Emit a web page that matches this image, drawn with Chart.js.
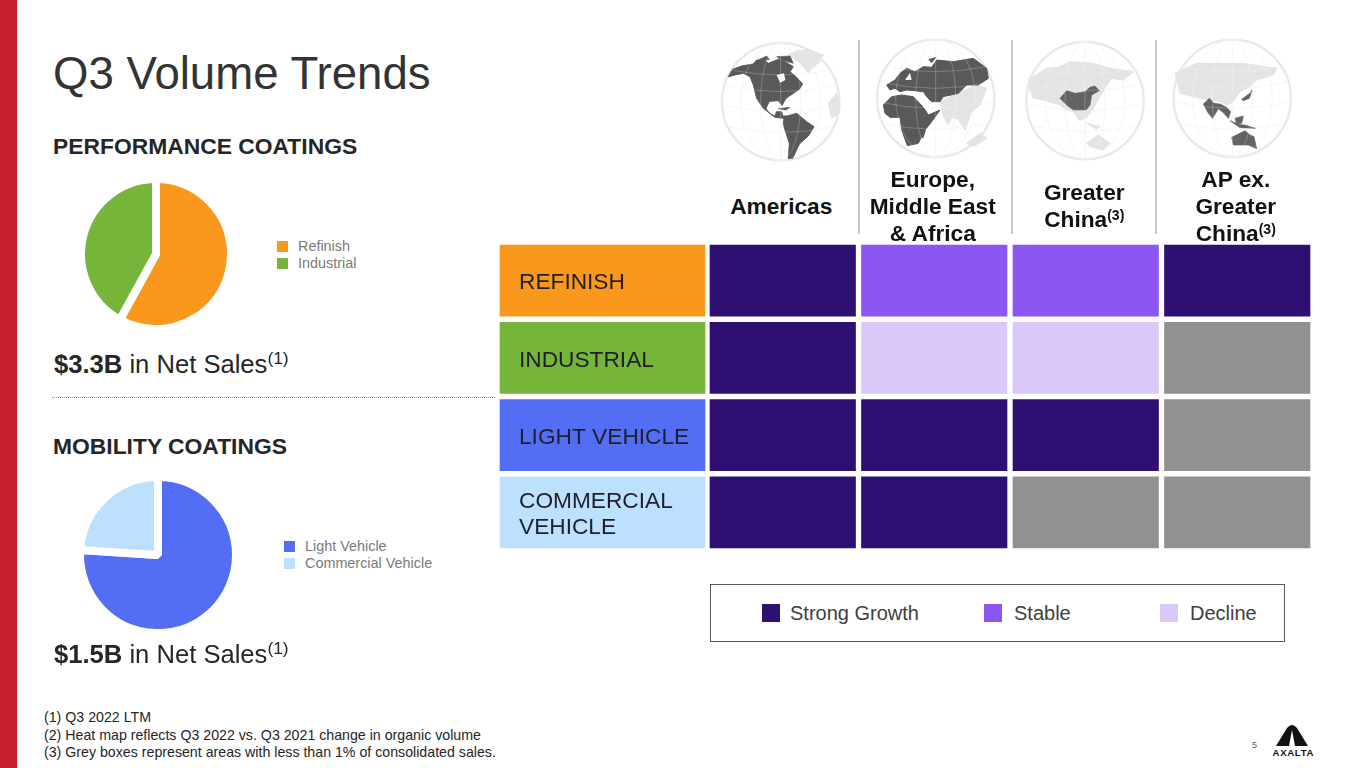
<!DOCTYPE html>
<html>
<head>
<meta charset="utf-8">
<title>Q3 Volume Trends</title>
<script src="https://cdn.jsdelivr.net/npm/chart.js@4"></script>
<style>
  html, body { margin: 0; padding: 0; background: #fff; width: 1365px; height: 768px; overflow: hidden; }
  body { font-family: "Liberation Sans", Arial, sans-serif; color: #262626; position: relative; }
  .abs { position: absolute; white-space: nowrap; }
  canvas { position: absolute; }
  sup { font-size: 0.68em; line-height: 0; vertical-align: baseline; position: relative; top: -0.5em; }
  .head { font-weight: bold; font-size: 22.85px; line-height: 27px; color: #262626; left: 53px; }
  .sales { font-size: 25.6px; line-height: 30px; left: 54px; }
  .vline { position: absolute; width: 2px; top: 40px; height: 194px; background: #c9c9c9; }
  .leg { position: absolute; font-size: 14.4px; line-height: 17px; color: #7a7a7a; white-space: nowrap; }
  .leg i { position: absolute; width: 11px; height: 11px; top: 3px; }
  .hk { position: absolute; font-size: 20px; line-height: 24px; color: #404040; white-space: nowrap; top: 601px; }
  .hs { position: absolute; width: 18px; height: 18px; top: 604px; }
  .region { position: absolute; top: 206px; transform: translate(-50%, -50%); text-align: center; font-weight: bold; font-size: 22.7px; line-height: 27px; color: #111; white-space: nowrap; }
  .region sup { font-size: 0.62em; }
  svg path { stroke-linejoin: round; }
</style>
</head>
<body>
<div class="abs" style="left:0;top:0;width:17px;height:768px;background:#c8202d"></div>
<div class="abs" style="left:53px;top:47px;font-size:45.6px;line-height:54px;color:#333">Q3 Volume Trends</div>

<div class="abs head" style="top:133px">PERFORMANCE COATINGS</div>
<canvas id="piePerformance" width="160" height="160" style="left:76px;top:174px"></canvas>
<div class="abs sales" style="top:349px"><b>$3.3B</b> in Net Sales<sup>(1)</sup></div>
<div class="abs" style="left:52px;top:397px;width:443px;border-top:1px dotted #8a8a8a"></div>

<div class="abs head" style="top:433px">MOBILITY COATINGS</div>
<canvas id="pieMobility" width="170" height="170" style="left:73px;top:470px"></canvas>
<div class="abs sales" style="top:639px"><b>$1.5B</b> in Net Sales<sup>(1)</sup></div>

<!-- globes -->
<svg class="abs" style="left:710px;top:30px" width="610" height="140" viewBox="0 0 1830 420">
  <defs>
    <g id="grat" fill="none" stroke="#efefef" stroke-width="2">
      <ellipse cx="0" cy="0" rx="60" ry="176"/>
      <ellipse cx="0" cy="0" rx="120" ry="176"/>
      <path d="M0,-176V176M-170,-50Q0,-10 170,-50M-176,10Q0,50 176,10M-160,75Q0,110 160,75M-150,-95Q0,-65 150,-95"/>
    </g>
    <g id="gratTop" fill="none" stroke="#ffffff" stroke-opacity="0.45" stroke-width="1.5">
      <ellipse cx="0" cy="0" rx="60" ry="176"/>
      <ellipse cx="0" cy="0" rx="120" ry="176"/>
      <path d="M0,-176V176M-170,-50Q0,-10 170,-50M-176,10Q0,50 176,10M-160,75Q0,110 160,75M-150,-95Q0,-65 150,-95"/>
    </g>
  </defs>
  <!-- Americas -->
  <g transform="translate(212,215)"><circle r="176" fill="#fff" stroke="#e9e9e9" stroke-width="7"/><use href="#grat"/></g>
  <path fill="#e4e4e4" stroke="#e4e4e4" stroke-width="3" d="M235,75L262,62L300,60L340,75L325,100L305,115L295,130L280,110L265,95ZM355,220L380,190L390,220L388,250L365,265Z"/>
  <path fill="#595959" stroke="#595959" stroke-width="3" d="M55,140L68,118L95,108L130,102L140,90L165,92L175,100L205,88L225,95L250,110L240,125L258,140L278,162L268,178L250,190L228,205L216,226L205,212L178,214L168,235L178,250L195,258L200,244L215,245L218,258L232,258L260,250L290,275L312,290L295,318L268,342L248,385L235,386L238,340L225,300L220,280L222,265L195,262L160,235L140,205L130,165L120,140L100,130L75,135Z"/>
  <path fill="#fff" d="M200,135L222,130L226,150L210,158ZM160,80L190,78L185,90L160,90Z"/>
  <path fill="#595959" stroke="#595959" stroke-width="2" d="M205,236L240,232L228,240ZM140,92L170,78L178,88L150,96ZM200,80L240,78L250,100L215,90Z"/>
  <g transform="translate(212,215)"><use href="#gratTop"/></g>
  <!-- Europe, Middle East and Africa -->
  <g transform="translate(677,205)"><circle r="176" fill="#fff" stroke="#e9e9e9" stroke-width="7"/><use href="#grat"/></g>
  <path fill="#e4e4e4" stroke="#e4e4e4" stroke-width="3" d="M690,215L740,190L800,165L830,175L810,225L785,245L765,300L745,268L725,262L715,285L700,258ZM770,340L810,310L830,325L790,350Z"/>
  <path fill="#595959" stroke="#595959" stroke-width="3" d="M530,165L555,150L570,130L590,115L615,125L640,110L665,112L680,90L730,95L790,85L830,115L835,145L805,165L770,165L745,190L700,200L690,215L665,215L650,200L640,185L612,182L590,180L570,185L555,175L540,180ZM520,225L545,200L575,195L610,200L640,232L655,255L690,240L665,275L645,300L625,340L592,347L575,300L570,262L540,262L525,250Z"/>
  <path fill="#fff" d="M585,150L600,128L605,150ZM560,190L610,190L640,200L610,195Z"/>
  <path fill="#595959" d="M640,305L648,300L640,325L633,322ZM655,88L680,80L665,100Z"/>
  <g transform="translate(677,205)"><use href="#gratTop"/></g>
  <!-- Greater China -->
  <g transform="translate(1125,212)"><circle r="176" fill="#fff" stroke="#e9e9e9" stroke-width="7"/><use href="#grat"/></g>
  <path fill="#e4e4e4" stroke="#e4e4e4" stroke-width="3" d="M955,150L1010,115L1045,112L1080,95L1150,100L1200,115L1270,125L1240,150L1205,145L1185,175L1170,200L1150,235L1130,262L1108,272L1090,245L1070,240L1050,225L1000,210L970,205L960,180ZM1130,340L1165,315L1200,340L1180,360L1140,350ZM1130,280L1170,290L1160,298Z"/>
  <path fill="#636363" stroke="#636363" stroke-width="2" d="M1050,205L1070,182L1095,190L1125,185L1140,172L1155,168L1168,182L1145,195L1140,225L1128,240L1090,240L1070,225Z"/>
  <g transform="translate(1125,212)"><use href="#gratTop"/></g>
  <!-- AP ex. Greater China -->
  <g transform="translate(1567,205)"><circle r="176" fill="#fff" stroke="#e9e9e9" stroke-width="7"/><use href="#grat"/></g>
  <path fill="#e4e4e4" stroke="#e4e4e4" stroke-width="3" d="M1395,130L1460,100L1520,100L1600,100L1700,115L1690,135L1640,150L1620,170L1590,185L1570,215L1550,225L1530,215L1500,210L1470,205L1410,190Z"/>
  <path fill="#636363" stroke="#636363" stroke-width="2" d="M1480,222L1498,205L1512,220L1530,222L1550,232L1562,245L1555,265L1540,248L1525,236L1508,265L1495,250ZM1595,208L1622,188L1626,180L1618,205L1600,212ZM1560,272L1590,284L1605,285L1636,295L1590,293ZM1575,265L1600,258L1595,280L1580,282ZM1565,322L1605,302L1620,315L1632,320L1640,356L1615,345L1570,345Z"/>
  <g transform="translate(1567,205)"><use href="#gratTop"/></g>
</svg>
<div class="vline" style="left:858px"></div>
<div class="vline" style="left:1011px"></div>
<div class="vline" style="left:1155px"></div>

<canvas id="rowLabels" width="211" height="309" style="left:497px;top:242px"></canvas>
<canvas id="heatmap" width="606" height="309" style="left:707px;top:242px"></canvas>

<!-- heat map key -->
<div class="abs" style="left:710px;top:584px;width:573px;height:56px;border:1px solid #595959"></div>
<div id="heatKey"></div>

<div class="abs" style="left:44px;top:709px;font-size:14.2px;line-height:17.5px;color:#262626">
  (1) Q3 2022 LTM<br>
  (2) Heat map reflects Q3 2022 vs. Q3 2021 change in organic volume<br>
  (3) Grey boxes represent areas with less than 1% of consolidated sales.
</div>
<div class="abs" style="left:1252px;top:740px;font-size:9px;line-height:11px;color:#595959">5</div>
<svg class="abs" style="left:1270px;top:722px" width="46" height="36" viewBox="0 0 46 36">
  <path d="M6,24L17,6Q22,0 27,6L38,24Z" fill="#111"/>
  <path d="M22,8L19,24L25,24Z" fill="#fff"/>
  <text x="23" y="34" text-anchor="middle" font-family="Liberation Sans" font-weight="bold" font-size="9.6" textLength="41" fill="#111">AXALTA</text>
</svg>

<script>
// Pie charts
const performanceLabels = ['Refinish', 'Industrial'];
const performanceValues = [58, 42];
const mobilityLabels = ['Light Vehicle', 'Commercial Vehicle'];
const mobilityValues = [76, 24];

// Heat map
const regions = ['Americas', 'Europe,<br>Middle East<br>&amp; Africa', 'Greater<br>China<sup>(3)</sup>', 'AP ex.<br>Greater<br>China<sup>(3)</sup>'];
const segments = ['REFINISH', 'INDUSTRIAL', 'LIGHT VEHICLE', ['COMMERCIAL', 'VEHICLE']];
const refinishTrend = ['Strong Growth', 'Stable', 'Stable', 'Strong Growth'];
const industrialTrend = ['Strong Growth', 'Decline', 'Decline', 'n/a'];
const lightVehicleTrend = ['Strong Growth', 'Strong Growth', 'Strong Growth', 'n/a'];
const commercialVehicleTrend = ['Strong Growth', 'Strong Growth', 'n/a', 'n/a'];
const trendKey = ['Strong Growth', 'Stable', 'Decline'];

const ORANGE = '#fa981e', GREEN = '#75b53a', BLUE = '#536ef5', SKY = '#bde0ff';
const trendColors = { 'Strong Growth': '#2f0f72', 'Stable': '#8c57f0', 'Decline': '#d9c8f8', 'n/a': '#919191' };

Chart.defaults.font.family = '"Liberation Sans", Arial, sans-serif';
Chart.defaults.animation = false;
Chart.defaults.responsive = false;

function drawPie(id, labels, values, colors, radius, legendX, legendY) {
    const chart = new Chart(document.getElementById(id), {
        type: 'pie',
        data: {
            labels: labels,
            datasets: [{ data: values, backgroundColor: colors, borderColor: '#fff', borderWidth: 8 }]
        },
        options: { radius: radius, plugins: { legend: { display: false }, tooltip: { enabled: false } } }
    });
    // legend sits away from the pie, text gap is wider than the built in one
    labels.forEach((label, i) => {
        const row = document.createElement('div');
        row.className = 'leg';
        row.style.left = legendX + 'px';
        row.style.top = (legendY + i * 17) + 'px';
        row.style.paddingLeft = '21px';
        row.innerHTML = '<i style="left:0;background:' + colors[i] + '"></i>' + label;
        document.body.appendChild(row);
    });
    return chart;
}

drawPie('piePerformance', performanceLabels, performanceValues, [ORANGE, GREEN], 75, 277, 238);
drawPie('pieMobility', mobilityLabels, mobilityValues, [BLUE, SKY], 78, 284, 538);

// coloured segment column, labels are the category ticks
new Chart(document.getElementById('rowLabels'), {
    type: 'bar',
    data: {
        labels: segments,
        datasets: [{
            data: segments.map(() => 1),
            backgroundColor: [ORANGE, GREEN, BLUE, SKY],
            borderColor: '#fff',
            borderWidth: 3,
            borderSkipped: false,
            barPercentage: 1,
            categoryPercentage: 1
        }]
    },
    options: {
        indexAxis: 'y',
        layout: { padding: 0, autoPadding: false },
        plugins: { legend: { display: false }, tooltip: { enabled: false } },
        scales: {
            x: { display: false, min: 0, max: 1 },
            y: {
                // tick padding would otherwise squeeze the rows
                afterFit: scale => { scale.width = 0; scale.paddingTop = 0; scale.paddingBottom = 0; },
                grid: { display: false, drawTicks: false },
                border: { display: false },
                ticks: {
                    mirror: true, z: 1, padding: 22, labelOffset: 2.5, color: '#1f1f2b',
                    font: { size: 22.7, lineHeight: 1.17 }
                }
            }
        }
    }
});

// one stacked dataset per segment, first one on top
const rows = [refinishTrend, industrialTrend, lightVehicleTrend, commercialVehicleTrend];
const heatChart = new Chart(document.getElementById('heatmap'), {
    type: 'bar',
    data: {
        labels: regions,
        datasets: rows.map((trend, i) => ({
            label: segments[i],
            data: trend.map(() => 1),
            backgroundColor: trend.map(t => trendColors[t]),
            borderColor: '#fff',
            borderWidth: 3,
            borderSkipped: false,
            barPercentage: 1,
            categoryPercentage: 1
        }))
    },
    options: {
        layout: { padding: 0, autoPadding: false },
        plugins: { legend: { display: false }, tooltip: { enabled: false } },
        scales: {
            x: { display: false, stacked: true },
            y: { display: false, stacked: true, reverse: true, min: 0, max: 4 }
        }
    }
});

// region headers need superscripts, so they are html placed from the x scale
regions.forEach((name, i) => {
    const el = document.createElement('div');
    el.className = 'region';
    el.style.left = (707 + heatChart.scales.x.getPixelForValue(i) - 1.5) + 'px';
    el.innerHTML = name;
    document.body.appendChild(el);
});

// key under the heat map
const keySquareX = [762, 984, 1160];
trendKey.forEach((name, i) => {
    const sq = document.createElement('div');
    sq.className = 'hs';
    sq.style.left = keySquareX[i] + 'px';
    sq.style.background = trendColors[name];
    document.body.appendChild(sq);
    const txt = document.createElement('div');
    txt.className = 'hk';
    txt.style.left = (keySquareX[i] + (i === 0 ? 28 : 30)) + 'px';
    txt.textContent = name;
    document.body.appendChild(txt);
});
</script>
</body>
</html>
